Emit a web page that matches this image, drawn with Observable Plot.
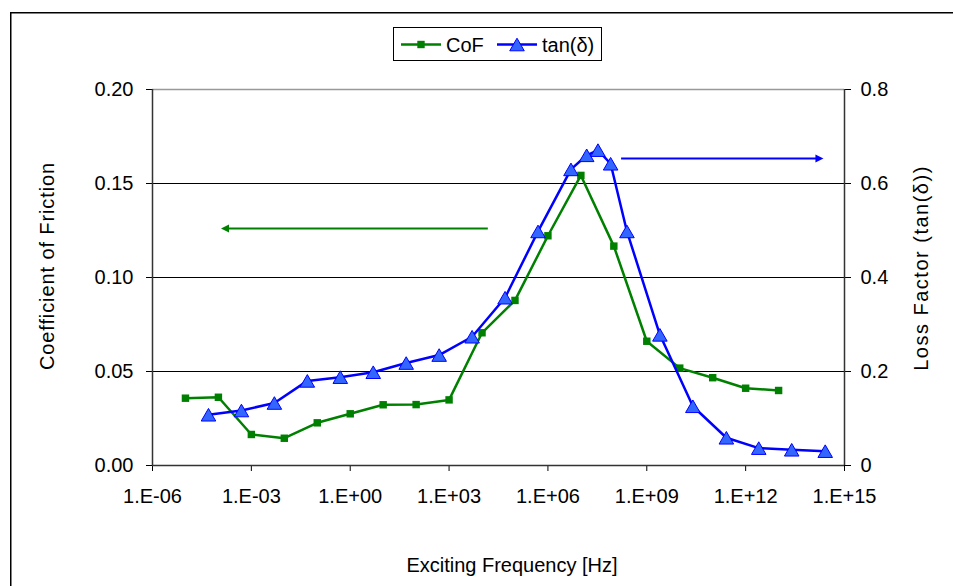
<!DOCTYPE html>
<html>
<head>
<meta charset="utf-8">
<script src="https://cdn.jsdelivr.net/npm/d3@7"></script>
<script src="https://cdn.jsdelivr.net/npm/@observablehq/plot@0.6"></script>
<style>
  html, body { margin: 0; padding: 0; background: #fff; overflow: hidden; }
  svg { display: block; }
</style>
</head>
<body>
<div id="chart"></div>
<script>
// Coefficient of friction, sampled once per decade (Hz)
const cofFreq = [1e-5, 1e-4, 1e-3, 1e-2, 1e-1, 1e0, 1e1, 1e2, 1e3, 1e4, 1e5, 1e6, 1e7, 1e8, 1e9, 1e10, 1e11, 1e12, 1e13];
const cofValue = [0.0358, 0.0363, 0.0165, 0.0145, 0.0227, 0.0275, 0.0323, 0.0324, 0.0349, 0.0706, 0.0878, 0.1222, 0.1543, 0.1167, 0.0661, 0.0518, 0.0467, 0.0411, 0.0399];

// Loss factor tan(δ) master curve (Hz)
const tanFreq = [5e-5, 5e-4, 5e-3, 5e-2, 5e-1, 5e0, 5e1, 5e2, 5e3, 5e4, 5e5, 5e6, 1.5e7, 3.3e7, 8e7, 2.5e8, 2.5e9, 2.5e10, 2.6e11, 2.5e12, 2.5e13, 2.6e14];
const tanValue = [0.108, 0.117, 0.133, 0.180, 0.188, 0.1985, 0.218, 0.235, 0.274, 0.357, 0.498, 0.630, 0.660, 0.671, 0.642, 0.498, 0.278, 0.126, 0.059, 0.037, 0.0335, 0.0305];

// Axes
const freqTicks = [1e-6, 1e-3, 1e0, 1e3, 1e6, 1e9, 1e12, 1e15];
const freqTickLabels = ["1.E-06", "1.E-03", "1.E+00", "1.E+03", "1.E+06", "1.E+09", "1.E+12", "1.E+15"];
const cofTicks = [0, 0.05, 0.10, 0.15, 0.20];
const cofTickLabels = ["0.00", "0.05", "0.10", "0.15", "0.20"];
const tanTicks = [0, 0.2, 0.4, 0.6, 0.8];
const tanTickLabels = ["0", "0.2", "0.4", "0.6", "0.8"];

const seriesNames = ["CoF", "tan(δ)"];
const xTitle = "Exciting Frequency [Hz]";
const yLeftTitle = "Coefficient of Friction";
const yRightTitle = "Loss Factor (tan(δ))";

// Direction arrows: which axis each curve belongs to
const cofArrow = {from: 1.5e4, to: 1.2e-4, value: 0.126};
const tanArrow = {from: 1.66e8, to: 2.3e14, value: 0.653};

// tan(δ) shares the left scale: 0.8 on the right axis lines up with 0.20 on the left
const tanToCof = 0.2 / 0.8;

const green = "#008000";
const blue = "#0000ff";
const triFill = "#3366ff";

const cof = cofFreq.map((f, i) => ({f, v: cofValue[i]}));
const tan = tanFreq.map((f, i) => ({f, v: tanValue[i] * tanToCof}));

// Upward triangle centred on its bounding box
const triangleUp = {
  draw(context, size) {
    const s = Math.sqrt(size * 4 / Math.sqrt(3));
    const h = s * Math.sqrt(3) / 2;
    context.moveTo(0, -h / 2);
    context.lineTo(s / 2, h / 2);
    context.lineTo(-s / 2, h / 2);
    context.closePath();
  }
};

// Solid arrowheads with the tip at the origin
const headLeft = {
  draw(context) {
    context.moveTo(0, 0);
    context.lineTo(8, -4);
    context.lineTo(8, 4);
    context.closePath();
  }
};
const headRight = {
  draw(context) {
    context.moveTo(0, 0);
    context.lineTo(-8, -4);
    context.lineTo(-8, 4);
    context.closePath();
  }
};

const font = "'Liberation Sans', Arial, sans-serif";

const chart = Plot.plot({
  width: 953,
  height: 586,
  marginLeft: 152,
  marginRight: 109,
  marginTop: 89,
  marginBottom: 121,
  style: {fontFamily: font, fontSize: "20px", color: "#000", background: "#fff"},
  x: {type: "log", domain: [1e-6, 1e15]},
  y: {domain: [0, 0.2]},
  marks: [
    Plot.ruleY(cofTicks.slice(1, 4), {stroke: "#000", strokeWidth: 1}),
    Plot.ruleY([0.2], {stroke: "#999", strokeWidth: 1.5}),
    Plot.axisY({
      anchor: "left", ticks: cofTicks, tickSize: 6, tickPadding: 13, label: null,
      tickFormat: d => cofTickLabels[cofTicks.findIndex(t => Math.abs(t - d) < 1e-9)]
    }),
    Plot.axisY({
      anchor: "right", ticks: tanTicks.map(t => t * tanToCof), tickSize: 6, tickPadding: 10, label: null,
      tickFormat: d => tanTickLabels[tanTicks.findIndex(t => Math.abs(t * tanToCof - d) < 1e-9)]
    }),
    Plot.axisX({
      ticks: freqTicks, tickSize: 6, tickPadding: 17, label: null,
      tickFormat: d => freqTickLabels[freqTicks.findIndex(t => Math.abs(Math.log10(t) - Math.log10(d)) < 1e-6)]
    }),
    Plot.ruleX([1e-6, 1e15], {stroke: "#333", strokeWidth: 1.5}),
    Plot.ruleY([0], {stroke: "#333", strokeWidth: 1.5}),

    // direction arrows
    Plot.link([cofArrow], {x1: "from", x2: d => d.to * 1.5, y1: "value", y2: "value", stroke: green, strokeWidth: 2}),
    Plot.dot([cofArrow], {x: "to", y: "value", symbol: headLeft, r: 4, fill: green, stroke: "none"}),
    Plot.link([tanArrow], {x1: "from", x2: d => d.to / 1.5, y1: d => d.value * tanToCof, y2: d => d.value * tanToCof, stroke: blue, strokeWidth: 2}),
    Plot.dot([tanArrow], {x: "to", y: d => d.value * tanToCof, symbol: headRight, r: 4, fill: blue, stroke: "none"}),

    Plot.line(cof, {x: "f", y: "v", stroke: green, strokeWidth: 2.5}),
    Plot.dot(cof, {x: "f", y: "v", symbol: "square", r: 4.2, fill: green, stroke: "none"}),
    Plot.line(tan, {x: "f", y: "v", stroke: blue, strokeWidth: 2.5}),
    Plot.dot(tan, {x: "f", y: "v", symbol: triangleUp, r: 5.4, fill: triFill, stroke: blue, strokeWidth: 1})
  ]
});

document.getElementById("chart").appendChild(chart);

// Chart border (top and left edges; the rest runs off the page), axis titles and legend
const svg = d3.select(chart);

svg.append("path")
  .attr("d", "M10.75,586V12.75H953")
  .attr("fill", "none").attr("stroke", "#000").attr("stroke-width", 1.5);

svg.append("text")
  .attr("x", 512).attr("y", 572)
  .attr("text-anchor", "middle")
  .attr("font-family", font).attr("font-size", 20)
  .text(xTitle);

svg.append("text")
  .attr("transform", "translate(54,266) rotate(-90)")
  .attr("text-anchor", "middle")
  .attr("font-family", font).attr("font-size", 20).attr("letter-spacing", 0.9)
  .text(yLeftTitle);

svg.append("text")
  .attr("transform", "translate(928,268) rotate(-90)")
  .attr("text-anchor", "middle")
  .attr("font-family", font).attr("font-size", 20).attr("letter-spacing", 1.5)
  .text(yRightTitle);

const legend = svg.append("g");
legend.append("rect")
  .attr("x", 393.5).attr("y", 27.5).attr("width", 208).attr("height", 33)
  .attr("fill", "#fff").attr("stroke", "#000").attr("stroke-width", 1);

const legendItems = [
  {name: seriesNames[0], x0: 401, color: green, marker: "square"},
  {name: seriesNames[1], x0: 497, color: blue, marker: "triangle"}
];
for (const item of legendItems) {
  legend.append("line")
    .attr("x1", item.x0).attr("x2", item.x0 + 40)
    .attr("y1", 44.5).attr("y2", 44.5)
    .attr("stroke", item.color).attr("stroke-width", 2.5);
  if (item.marker === "square") {
    legend.append("rect")
      .attr("x", item.x0 + 20 - 3.7).attr("y", 44.5 - 3.7)
      .attr("width", 7.4).attr("height", 7.4).attr("fill", item.color);
  } else {
    legend.append("path")
      .attr("transform", `translate(${item.x0 + 20},44.5)`)
      .attr("d", d3.symbol(triangleUp, Math.PI * 5.4 * 5.4)())
      .attr("fill", triFill).attr("stroke", item.color).attr("stroke-width", 1);
  }
  legend.append("text")
    .attr("x", item.x0 + 45).attr("y", 51.5)
    .attr("text-anchor", "start")
    .attr("font-family", font).attr("font-size", 20)
    .text(item.name);
}
</script>
</body>
</html>
